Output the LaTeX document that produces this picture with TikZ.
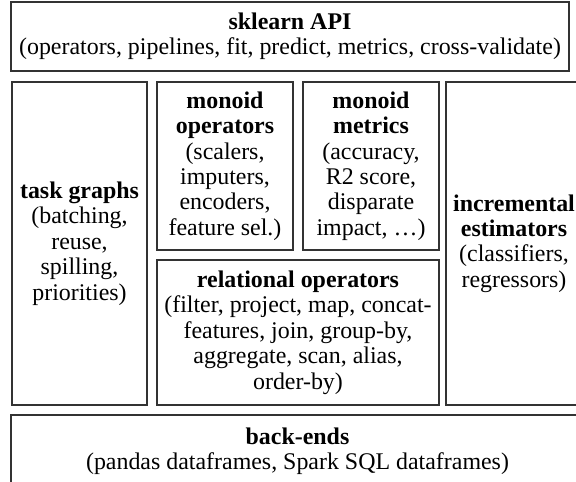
\documentclass[tikz,border=0pt]{standalone}
\usepackage{fontspec}
\setmainfont{Liberation Serif}
\tikzset{layer/.style={draw=black!80, line width=1.2bp, inner sep=0pt, align=center, font=\fontsize{24}{25.5}\selectfont}}
\begin{document}
\begin{tikzpicture}[x=1bp, y=-1bp]
\useasboundingbox (0,0) rectangle (576,482);
\clip (0,0) rectangle (576,482);
\node[layer, minimum width=558bp, minimum height=69bp] (api) at (290,36.5) {\textbf{sklearn API}\\(operators, pipelines, fit, predict, metrics, cross-validate)};
\node[layer, minimum width=135bp, minimum height=323bp] (task) at (79.5,243.5) {\textbf{task graphs}\\(batching,\\reuse,\\spilling,\\priorities)};
\node[layer, minimum width=136bp, minimum height=168bp] (monop) at (225,166) {\textbf{monoid}\\\textbf{operators}\\(scalers,\\imputers,\\encoders,\\feature sel.)};
\node[layer, minimum width=136bp, minimum height=168bp] (monmet) at (371,166) {\textbf{monoid}\\\textbf{metrics}\\(accuracy,\\R2 score,\\disparate\\impact, \dots)};
\node[layer, minimum width=282bp, minimum height=145bp] (rel) at (298,332.5) {\textbf{relational operators}\\(filter, project, map, concat-\\features, join, group-by,\\aggregate, scan, alias,\\order-by)};
\node[layer, minimum width=136bp, minimum height=323bp] (incr) at (514,243.5) {\textbf{incremental}\\\textbf{estimators}\\(classifiers,\\regressors)};
\node[layer, minimum width=573bp, minimum height=72bp] (back) at (297.5,451) {\textbf{back-ends}\\(pandas dataframes, Spark SQL dataframes)};
\end{tikzpicture}
\end{document}
